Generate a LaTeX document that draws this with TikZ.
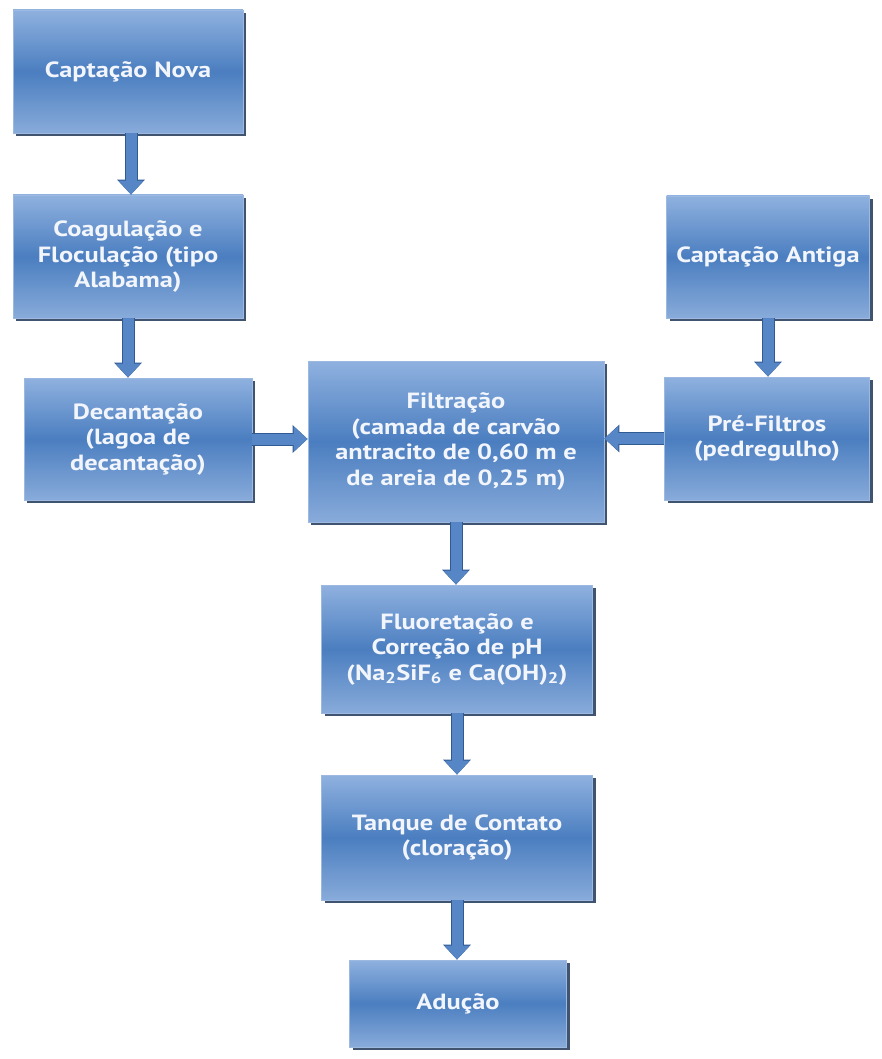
\documentclass[tikz,border=0pt]{standalone}
\usepackage{fontspec}
\setmainfont{PT Sans}[FakeStretch=1.2]
\usetikzlibrary{arrows.meta,shadows,calc}
\definecolor{boxtop}{HTML}{8FB1DF}
\definecolor{boxmid}{HTML}{4B7EC0}
\definecolor{boxbot}{HTML}{88ABDA}
\definecolor{boxline}{HTML}{9DB9E2}
\definecolor{shadowc}{HTML}{1F3556}
\definecolor{arrowc}{HTML}{5686C6}
\definecolor{arrowdark}{HTML}{2F5A92}
\definecolor{textc}{HTML}{F2F6FC}
\tikzset{
  procbox/.style={rectangle, draw=boxline, line width=0.8pt,
    top color=boxtop, bottom color=boxbot, middle color=boxmid,
    drop shadow={shadow xshift=3pt, shadow yshift=-3pt, fill=shadowc, opacity=0.85},
    text=textc, font=\fontsize{22}{25.5}\selectfont\bfseries, align=center, inner sep=2pt},
  flowarrow/.style={line width=11pt, draw=arrowc,
    -{Triangle[width=24pt,length=14pt]},
    preaction={draw=arrowdark, line width=13pt, -{Triangle[width=27pt,length=15pt]}}},
}
\begin{document}
\begin{tikzpicture}[x=1pt,y=-1pt]
\useasboundingbox (0,0) rectangle (882,1059);
\node[procbox, minimum width=230pt, minimum height=123pt] (nova) at (128,71.5) {Captação Nova};
\node[procbox, minimum width=230pt, minimum height=123pt] (coag) at (128,256.5) {Coagulação e\\Floculação (tipo\\Alabama)};
\node[procbox, minimum width=228pt, minimum height=122pt] (dec) at (138,439) {Decantação\\(lagoa de\\decantação)};
\node[procbox, minimum width=296pt, minimum height=161pt] (filt) at (456,441.5) {Filtração\\(camada de carvão\\antracito de 0,60 m e\\de areia de 0,25 m)};
\node[procbox, minimum width=203pt, minimum height=122pt] (antiga) at (768,257) {Captação Antiga};
\node[procbox, minimum width=205pt, minimum height=123pt] (pre) at (767,438.5) {Pré-Filtros\\(pedregulho)};
\node[procbox, minimum width=271pt, minimum height=128pt] (fluor) at (457,649) {Fluoretação e\\Correção de pH\\(Na\textsubscript{2}SiF\textsubscript{6} e Ca(OH)\textsubscript{2})};
\node[procbox, minimum width=271pt, minimum height=125pt] (tanque) at (457,837.5) {Tanque de Contato\\(cloração)};
\node[procbox, minimum width=217pt, minimum height=87pt] (aducao) at (458,1003.5) {Adução};

\draw[flowarrow] ($(nova.south)+(3,0)$) -- ($(coag.north)+(3,0)$);
\draw[flowarrow] (coag.south) -- (coag.south |- dec.north);
\draw[flowarrow] (dec.east) -- (dec.east -| filt.west);
\draw[flowarrow] (pre.west) -- (pre.west -| filt.east);
\draw[flowarrow] (antiga.south) -- (antiga.south |- pre.north);
\draw[flowarrow] (filt.south) -- (filt.south |- fluor.north);
\draw[flowarrow] (fluor.south) -- (fluor.south |- tanque.north);
\draw[flowarrow] (tanque.south) -- (tanque.south |- aducao.north);
\end{tikzpicture}
\end{document}
